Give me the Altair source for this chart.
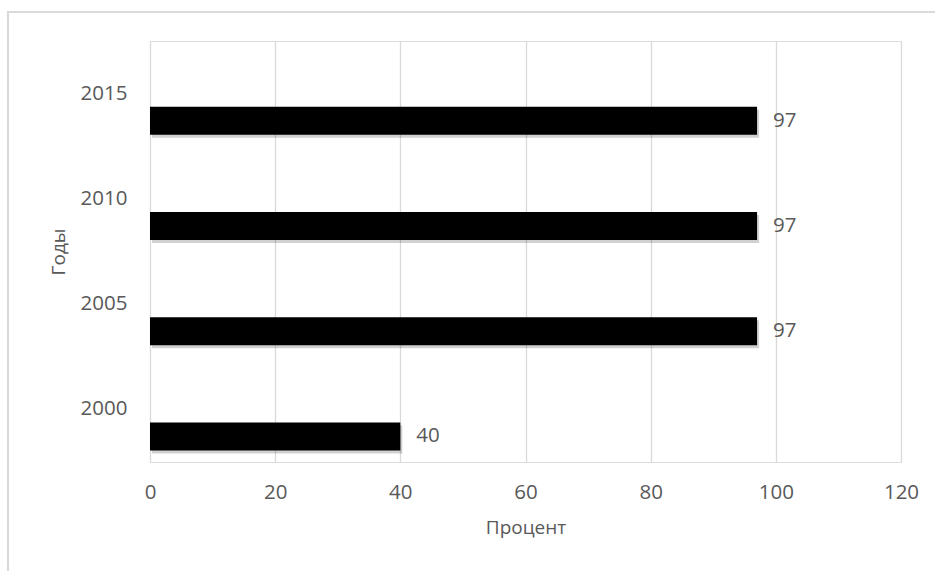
import altair as alt
import pandas as pd

# Share of the indicator by year, percent
years = ["2015", "2010", "2005", "2000"]
percent = [97, 97, 97, 40]

df = pd.DataFrame({"Год": years, "Процент": percent})

FONT = "Open Sans"
TEXT = "#595959"
GRID = "#d9d9d9"

PLOT_W = 751
PLOT_H = 421

y_enc = alt.Y(
    "Год:N",
    sort=years,
    scale=alt.Scale(paddingInner=0, paddingOuter=0),
    axis=alt.Axis(
        title="Годы",
        domain=False,
        ticks=False,
        grid=False,
        labelPadding=23,
        labelFontSize=20.5,
        labelColor=TEXT,
        labelFont=FONT,
        titleFont=FONT,
        titleFontSize=19,
        titleFontWeight="normal",
        titleColor=TEXT,
        titlePadding=12,
    ),
)

x_enc = alt.X(
    "Процент:Q",
    scale=alt.Scale(domain=[0, 120], nice=False),
    axis=alt.Axis(
        title="Процент",
        values=[0, 20, 40, 60, 80, 100, 120],
        domain=False,
        ticks=False,
        grid=True,
        gridColor=GRID,
        gridWidth=1.3,
        labelFlush=False,
        labelPadding=20,
        labelFontSize=20.5,
        labelColor=TEXT,
        labelFont=FONT,
        titleFont=FONT,
        titleFontSize=19,
        titleFontWeight="normal",
        titleColor=TEXT,
        titlePadding=16,
    ),
)

base = alt.Chart(df).encode(x=x_enc, y=y_enc)

# soft drop shadow under each bar
shadow = base.mark_bar(height=28, yOffset=30, xOffset=2, color="#000000", opacity=0.18)

bars = base.mark_bar(height=28, yOffset=27, color="#000000")

labels = base.mark_text(
    align="left", baseline="middle", dx=16, yOffset=27,
    font=FONT, fontSize=20.5, color=TEXT,
).encode(text="Процент:Q")

# light frame around the whole chart
frame = alt.Chart(df).mark_rect(
    fill=None, stroke=GRID, strokeWidth=1.5, clip=False
).encode(
    x=alt.value(-142), x2=alt.value(800),
    y=alt.value(-29), y2=alt.value(560),
)

chart = (
    alt.layer(frame, shadow, bars, labels)
    .properties(
        width=PLOT_W,
        height=PLOT_H,
        autosize=alt.AutoSizeParams(type="none"),
        padding={"left": 150, "top": 41, "right": 34, "bottom": 109},
    )
    .configure_view(stroke=None)
    .configure(background="#ffffff")
)

chart.save("out.html", embed_options={"renderer": "svg", "actions": False})
